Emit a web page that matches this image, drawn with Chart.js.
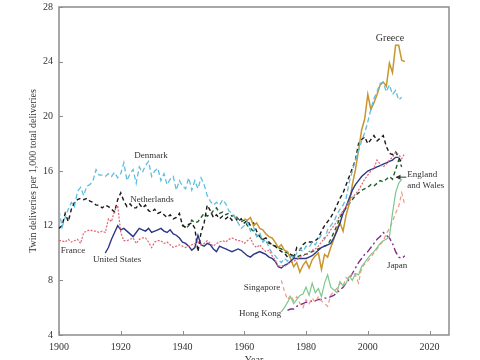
<!DOCTYPE html>
<html>
<head>
<meta charset="utf-8">
<script src="https://cdn.jsdelivr.net/npm/chart.js@4.4.1/dist/chart.umd.min.js"></script>
<style>
    html, body { margin: 0; padding: 0; background: #fff; }
    #wrap { width: 480px; height: 360px; }
</style>
</head>
<body>
<div id="wrap"><canvas id="twinChart" width="480" height="360"></canvas></div>
<script>
const xTicks = [1900, 1920, 1940, 1960, 1980, 2000, 2020]
const yTicks = [4, 8, 12, 16, 20, 24, 28]

// twin deliveries per 1,000 total deliveries, one value per year from the start year
const denmarkStart = 1900
const denmark = [
    13.1, 11.9, 12.6, 13.2, 13.7, 13.4, 14.5, 14.8, 14.2, 14.9,
    15.0, 15.3, 16.1, 15.7, 15.7, 15.6, 15.8, 15.6, 15.9, 15.5,
    15.8, 16.6, 15.3, 15.8, 16.1, 15.1, 16.3, 15.9, 16.4, 16.7,
    15.6, 16.0, 16.2, 15.3, 15.8, 15.0, 15.4, 15.6, 14.6, 15.3,
    14.9, 14.7, 15.5, 14.6, 15.3, 14.7, 15.5, 15.0, 14.2, 13.8,
    13.5, 13.7, 13.5, 13.9, 13.6, 13.1, 12.9, 12.6, 12.2, 11.8,
    12.0, 12.3, 11.6, 11.9, 11.2, 11.5, 10.8, 11.0, 10.4, 10.0,
    9.8, 9.5, 9.3, 9.6, 9.4, 9.8, 9.6, 10.0, 10.3, 10.1,
    10.5, 10.4, 10.8, 10.6, 11.0, 11.3, 11.0, 11.7, 12.0, 12.3,
    12.8, 13.2, 13.5, 14.0, 15.2, 16.0, 16.8, 17.5, 18.2, 18.8,
    19.6, 20.5, 21.3, 21.8, 22.4, 22.5, 21.8, 22.3, 21.6, 21.9,
    21.2, 21.4
]

const netherlandsStart = 1900
const netherlands = [
    11.8, 12.0, 12.9, 12.3, 13.2, 13.7, 13.9, 14.0, 13.9, 14.0,
    13.8, 13.7, 13.5, 13.5, 13.3, 13.5, 13.4, 13.2, 13.0, 13.9,
    14.4, 13.8, 13.4, 13.6, 13.3, 13.3, 13.6, 13.3, 13.5, 13.1,
    13.0, 13.2, 12.9, 13.0, 12.8, 12.6, 12.8, 12.5, 12.6, 12.9,
    12.0, 11.9, 12.1, 12.2, 11.8, 10.1, 11.5, 12.2, 13.5, 13.1,
    12.6, 12.8, 12.5, 12.7, 12.5, 12.7, 12.4, 12.6, 12.3, 12.5,
    12.2, 12.4, 12.0, 12.2, 11.6, 11.2, 11.0, 11.1, 10.8, 10.6,
    10.5, 10.3, 10.1, 10.0, 9.7, 9.9, 9.6, 10.4, 10.2, 10.6,
    10.8, 10.8, 10.8, 10.9, 11.1, 11.6, 12.0, 12.3, 12.6, 13.0,
    13.5, 14.0, 14.4, 15.0, 15.6, 16.2, 16.8, 18.0, 18.3, 18.5,
    18.0, 18.3, 18.6, 18.2, 18.4, 18.6, 17.8, 17.3, 17.2, 17.4,
    17.0, 16.6
]

const franceStart = 1900
const france = [
    10.9, 10.9, 10.8, 11.0, 10.8, 10.9, 11.0, 10.7, 11.5, 11.6,
    11.7, 11.6, 11.6, 11.5, 11.6, 11.5, 12.5, 12.3, 13.1, 13.5,
    11.5, 10.9, 10.9, 11.0, 11.1, 10.7, 11.0, 11.1, 11.1, 10.8,
    10.4, 10.8, 10.9, 10.9, 10.7, 10.8, 10.6, 10.4, 10.5, 10.6,
    10.5, 10.4, 10.5, 10.6, 10.7, 10.8, 10.6, 10.7, 10.9, 10.7,
    10.5, 10.7, 10.8, 10.9, 10.8, 11.0, 11.1, 11.0, 10.9, 10.9,
    10.7, 10.9, 11.1, 10.6, 10.4, 10.6, 10.3, 10.1, 10.2, 9.8,
    9.5, 9.0, 9.1, 9.0, 9.2, 9.3, 9.4, 9.5, 9.7, 9.8,
    9.9, 10.1, 10.2, 10.3, 10.5, 10.8, 11.1, 11.3, 11.7, 12.0,
    12.3, 12.8, 13.1, 13.4, 13.8, 14.1, 14.3, 14.6, 15.0, 15.4,
    15.7, 16.0, 16.2, 16.8, 16.5, 16.3, 16.5, 16.8, 17.0, 17.4,
    17.2, 16.9, 17.3
]

const usStart = 1915
const us = [
    10.0, 10.4, 11.0, 11.5, 12.0,
    11.7, 11.8, 11.6, 11.4, 11.2, 11.5, 11.8, 11.7, 11.6, 11.8,
    11.5, 11.6, 11.7, 11.8, 11.6, 11.5, 11.7, 11.4, 11.3, 11.1,
    10.8, 10.7, 10.5, 10.2, 10.4, 11.3, 10.6, 10.5, 10.7, 10.6,
    10.3, 10.1, 10.5, 10.4, 10.3, 10.2, 10.1, 10.2, 10.3, 10.2,
    10.0, 9.8, 9.7, 9.9, 10.0, 10.1, 10.0, 9.9, 9.7, 9.6,
    9.4, 9.0, 8.9, 9.1, 9.2, 9.4, 9.6, 9.6, 9.6, 9.6,
    9.6, 9.7, 9.8, 10.0, 10.2, 10.4, 10.5, 10.6, 10.7, 11.1,
    11.6, 12.2, 12.9, 13.4, 14.0, 14.6, 15.0, 15.3, 15.6, 15.8,
    16.0, 16.1, 16.2, 16.3, 16.4, 16.5, 16.6, 16.7, 16.8, 17.0,
    17.0
]

const englandStart = 1940
const england = [
    12.1, 11.8, 12.0, 12.4, 12.2, 12.3, 12.6, 12.9, 12.7, 12.8,
    13.1, 13.3, 12.9, 13.0, 12.8, 12.9, 12.7, 12.8, 12.5, 12.3,
    12.4, 12.0, 11.8, 11.6, 11.3, 11.1, 11.0, 10.8, 10.7, 10.6,
    10.5, 10.4, 10.3, 10.1, 10.0, 9.9, 9.8, 9.7, 9.8, 9.9,
    9.9, 10.0, 10.1, 10.2, 10.3, 10.4, 10.5, 10.6, 11.0, 11.5,
    12.0, 12.6, 13.0, 13.3, 13.6, 13.9, 14.2, 14.4, 14.6, 14.7,
    14.8, 15.0, 14.9, 15.1, 15.3, 15.2, 15.4, 15.6, 15.4, 16.1,
    16.8, 16.3
]

const greeceStart = 1960
const greece = [
    12.5, 12.4, 12.6, 12.0, 12.2, 11.8, 11.7, 11.4, 11.2, 11.1,
    10.8, 10.4, 10.6, 10.2, 10.1, 9.6, 9.0, 9.3, 8.6, 9.1,
    9.4, 8.9, 9.5, 9.8, 10.0, 8.8, 9.9, 9.7, 10.4, 11.0,
    11.8, 12.2, 11.6, 12.8, 13.6, 15.0, 16.1, 17.5, 19.0, 19.8,
    21.6, 20.5, 21.0, 21.6, 22.3, 22.5, 22.2, 23.9, 23.2, 25.2,
    25.2, 24.1, 24.0
]

const japanStart = 1974
const japan = [
    5.8, 5.9, 5.9, 6.1, 6.2, 6.3,
    6.4, 6.4, 6.5, 6.5, 6.6, 6.6, 6.7, 6.7, 6.8, 6.9,
    7.1, 7.3, 7.5, 7.8, 8.1, 8.5, 8.9, 9.3, 9.6, 9.9,
    10.1, 10.4, 10.7, 11.0, 11.2, 11.5, 11.3, 11.1, 10.7, 10.1,
    9.7, 9.6, 9.8
]

const singaporeStart = 1972
const singapore = [
    8.0, 7.2, 6.6, 6.9, 6.5, 6.8, 6.3, 6.0,
    6.6, 6.3, 6.7, 6.4, 6.8, 6.5, 6.3, 6.1, 6.9, 7.2,
    7.4, 7.8, 7.6, 8.2, 8.1, 8.6, 8.4, 7.8, 8.9, 9.2,
    9.4, 9.7, 10.0, 10.3, 10.6, 10.9, 11.4, 11.8, 12.3, 12.9,
    13.4, 14.4, 13.5
]

const hongKongStart = 1972
const hongKong = [
    5.7, 6.0, 6.4, 6.8, 6.3, 6.6, 6.9, 7.0,
    7.5, 6.9, 7.8, 7.1, 7.4, 6.8, 7.8, 8.4, 7.5, 7.3,
    7.1, 7.9, 7.6, 7.8, 8.3, 8.0, 8.5, 8.4, 9.0, 9.3,
    9.6, 9.9, 10.1, 10.4, 10.7, 10.9, 11.0, 11.2, 12.9, 14.4,
    15.1, 15.4
]

const FONT = '"Liberation Serif", "DejaVu Serif", serif'

function toPoints(start, values) {
    return values.map((v, i) => ({x: start + i, y: v}))
}

function series(label, start, values, color, dash, width) {
    return {
        label: label,
        data: toPoints(start, values),
        borderColor: color,
        backgroundColor: color,
        borderWidth: width || 1.3,
        borderDash: dash || [],
        pointRadius: 0,
        tension: 0,
        fill: false
    }
}

// frame round the plot and short inward ticks
const framePlugin = {
    id: 'frame',
    beforeDatasetsDraw(chart) {
        const {ctx, chartArea: a, scales: {x, y}} = chart
        ctx.save()
        ctx.strokeStyle = '#8c8c8c'
        ctx.lineWidth = 1.5
        ctx.strokeRect(a.left, a.top, a.right - a.left, a.bottom - a.top)
        ctx.lineWidth = 1
        ctx.beginPath()
        xTicks.forEach(t => {
            const px = Math.round(x.getPixelForValue(t)) + 0.5
            ctx.moveTo(px, a.bottom)
            ctx.lineTo(px, a.bottom - 4)
        })
        yTicks.forEach(t => {
            const py = Math.round(y.getPixelForValue(t)) + 0.5
            ctx.moveTo(a.left, py)
            ctx.lineTo(a.left + 4, py)
        })
        ctx.stroke()
        ctx.restore()
    }
}

const labelsPlugin = {
    id: 'countryLabels',
    afterDatasetsDraw(chart) {
        const {ctx, scales: {x, y}} = chart
        ctx.save()
        ctx.fillStyle = '#333'
        ctx.textBaseline = 'middle'

        const put = (text, year, value, align, size) => {
            ctx.font = (size || 9) + 'px ' + FONT
            ctx.textAlign = align || 'center'
            ctx.fillText(text, x.getPixelForValue(year), y.getPixelForValue(value))
        }

        put('Denmark', 1929.8, 17.15)
        put('Netherlands', 1930.1, 13.9)
        put('France', 1904.5, 10.15)
        put('United States', 1918.8, 9.55)
        put('Greece', 2007.2, 25.7, 'center', 10)
        put('England', 2012.8, 15.7, 'left')
        put('and Wales', 2012.8, 14.9, 'left')
        put('Japan', 2009.5, 9.1)
        put('Singapore', 1965.7, 7.45)
        put('Hong Kong', 1965.1, 5.55)

        // arrow to England and Wales
        const x0 = x.getPixelForValue(2012.5)
        const x1 = x.getPixelForValue(2009.3)
        const yy = y.getPixelForValue(15.55)
        ctx.strokeStyle = '#333'
        ctx.lineWidth = 1
        ctx.beginPath()
        ctx.moveTo(x0, yy)
        ctx.lineTo(x1, yy)
        ctx.stroke()
        ctx.beginPath()
        ctx.moveTo(x1 - 1, yy)
        ctx.lineTo(x1 + 4, yy - 2.5)
        ctx.lineTo(x1 + 4, yy + 2.5)
        ctx.closePath()
        ctx.fillStyle = '#333'
        ctx.fill()
        ctx.restore()
    }
}

new Chart(document.getElementById('twinChart'), {
    type: 'line',
    data: {
        datasets: [
            series('France', franceStart, france, 'rgb(226,100,115)', [2, 1.5], 1.2),
            series('Denmark', denmarkStart, denmark, 'rgb(95,190,222)', [5, 3]),
            series('United States', usStart, us, 'rgb(45,55,135)', [], 1.4),
            series('Greece', greeceStart, greece, 'rgb(200,150,45)', [], 1.5),
            series('Netherlands', netherlandsStart, netherlands, 'rgb(25,25,25)', [4, 3], 1.4),
            series('England and Wales', englandStart, england, 'rgb(30,95,40)', [4, 3], 1.4),
            series('Hong Kong', hongKongStart, hongKong, 'rgb(125,200,140)', [], 1.2),
            series('Singapore', singaporeStart, singapore, 'rgb(238,150,130)', [4, 3], 1.2),
            series('Japan', japanStart, japan, 'rgb(130,45,135)', [7, 3, 2, 3], 1.4)
        ]
    },
    options: {
        responsive: false,
        animation: false,
        layout: {padding: {top: 7, right: 31, left: 0, bottom: 0}},
        plugins: {
            legend: {display: false},
            tooltip: {enabled: false}
        },
        scales: {
            x: {
                type: 'linear',
                min: 1900,
                max: 2026.3,
                afterBuildTicks: scale => {
                    scale.ticks = xTicks.map(v => ({value: v}))
                },
                afterFit: scale => {
                    scale.height = 25
                    scale.paddingLeft = 0
                    scale.paddingRight = 0
                },
                grid: {display: false, drawTicks: false},
                border: {display: false},
                ticks: {
                    padding: 6,
                    color: '#333',
                    font: {family: FONT, size: 10},
                    maxRotation: 0,
                    callback: v => String(v)
                },
                title: {
                    display: true,
                    text: 'Year',
                    color: '#333',
                    font: {family: FONT, size: 10},
                    padding: {top: 0, bottom: -6}
                }
            },
            y: {
                type: 'linear',
                min: 4,
                max: 28,
                afterBuildTicks: scale => {
                    scale.ticks = yTicks.map(v => ({value: v}))
                },
                afterFit: scale => {
                    scale.width = 59
                    scale.paddingTop = 0
                    scale.paddingBottom = 0
                },
                grid: {display: false, drawTicks: false},
                border: {display: false},
                ticks: {
                    padding: 6,
                    color: '#333',
                    font: {family: FONT, size: 10},
                    callback: v => String(v)
                },
                title: {
                    display: true,
                    text: 'Twin deliveries per 1,000 total deliveries',
                    color: '#333',
                    font: {family: FONT, size: 10},
                    padding: {top: 27, bottom: 0}
                }
            }
        }
    },
    plugins: [framePlugin, labelsPlugin]
})
</script>
</body>
</html>
